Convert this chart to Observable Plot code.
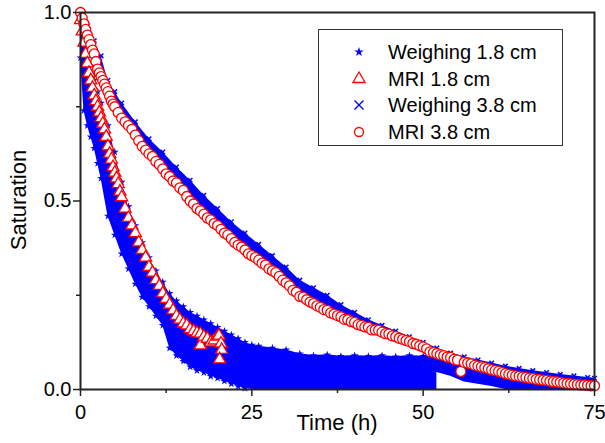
<!DOCTYPE html>
<html>
<head>
<meta charset="utf-8">
<script src="https://cdn.jsdelivr.net/npm/d3@7"></script>
<script src="https://cdn.jsdelivr.net/npm/@observablehq/plot@0.6"></script>
<style>
  html, body { margin: 0; padding: 0; background: #fff; }
  #wrap { position: relative; width: 605px; height: 443px; font-family: "Liberation Sans", Arial, sans-serif; color: #000; }
  .title { position: absolute; font-size: 22px; white-space: nowrap; }
  #legend { position: absolute; left: 318px; top: 29px; width: 245px; height: 117px; border: 1px solid #333; background: #fff; box-sizing: border-box; }
  .row { position: absolute; left: 0; height: 26px; font-size: 20px; line-height: 26px; }
  .row svg { position: absolute; left: 30px; top: 3px; }
  .row span { position: absolute; left: 69px; white-space: nowrap; }
</style>
</head>
<body>
<div id="wrap">
  <div id="chart"></div>
  <div class="title" style="left:337px; top:410px; transform: translateX(-50%);">Time (h)</div>
  <div class="title" style="left:19px; top:200px; transform: translate(-50%,-50%) rotate(-90deg);">Saturation</div>
  <div id="legend"></div>
</div>
<script>
// ---- tick labels ----
const xMajorTicks = [0, 25, 50, 75];
const xMinorTicks = [12.5, 37.5, 62.5];
const yMajorTicks = [0, 0.5, 1.0];
const yMinorTicks = [0.25, 0.75];

// ---- series names ----
const seriesNames = ["Weighing 1.8 cm", "MRI 1.8 cm", "Weighing 3.8 cm", "MRI 3.8 cm"];

// ---- Weighing 1.8 cm (dense point cloud: lower / upper envelope) ----
const w18Time = [0, 0.5, 1, 1.5, 2, 2.5, 3, 4, 5, 6, 7, 8, 9, 10, 11, 12, 13, 14, 15, 16, 17, 18, 19, 20, 21, 22, 23, 24, 25, 26, 28, 30, 32, 34, 36, 38, 40, 42, 44, 46, 48, 50, 52];
const w18Low  = [0.88, 0.74, 0.70, 0.67, 0.64, 0.60, 0.56, 0.46, 0.41, 0.36, 0.32, 0.28, 0.245, 0.22, 0.195, 0.17, 0.11, 0.09, 0.075, 0.06, 0.05, 0.045, 0.035, 0.03, 0.022, 0.015, 0.008, 0.003, 0, 0, 0, 0, 0, 0, 0, 0, 0, 0, 0, 0, 0, 0, 0];
const w18High = [1.0, 0.95, 0.90, 0.86, 0.82, 0.79, 0.76, 0.70, 0.63, 0.55, 0.485, 0.435, 0.39, 0.35, 0.315, 0.285, 0.255, 0.235, 0.22, 0.205, 0.195, 0.185, 0.175, 0.165, 0.155, 0.145, 0.135, 0.125, 0.118, 0.115, 0.11, 0.105, 0.095, 0.09, 0.092, 0.088, 0.09, 0.088, 0.09, 0.087, 0.09, 0.088, 0.085];

// ---- MRI 1.8 cm ----
const m18Time = [0, 0.25, 0.5, 0.75, 1.0, 1.25, 1.5, 1.75, 2.0, 2.25, 2.5, 2.75, 3.0, 3.25, 3.5, 3.75, 4.0, 4.25, 4.5, 4.75, 5.0, 5.25, 5.5, 5.75, 6.0, 6.5, 7, 7.5, 8, 8.5, 9, 9.5, 10, 10.5, 11, 11.5, 12, 12.5, 13, 13.5, 14, 14.5, 15, 15.5, 16, 16.5, 17, 17.5, 17.5, 18, 18.5, 19, 19.5, 20, 20.2, 20.5, 20.6, 20.3];
const m18Sat  = [0.98, 0.95, 0.92, 0.89, 0.865, 0.84, 0.82, 0.80, 0.78, 0.765, 0.75, 0.735, 0.72, 0.705, 0.69, 0.67, 0.645, 0.625, 0.61, 0.59, 0.575, 0.56, 0.545, 0.525, 0.51, 0.48, 0.455, 0.435, 0.415, 0.39, 0.37, 0.35, 0.325, 0.31, 0.29, 0.275, 0.255, 0.24, 0.225, 0.21, 0.195, 0.185, 0.175, 0.17, 0.16, 0.155, 0.15, 0.148, 0.117, 0.14, 0.135, 0.125, 0.13, 0.14, 0.143, 0.122, 0.105, 0.08];

// ---- Weighing 3.8 cm (dense point cloud: lower / upper envelope) ----
const w38Time = [0, 1, 2, 3, 4, 5, 6, 8, 10, 12, 14, 16, 18, 20, 22, 24, 26, 28, 30, 32, 34, 36, 38, 40, 42, 44, 46, 48, 50, 52, 54, 56, 58, 60, 62, 64, 66, 68, 70, 72, 74, 75];
const w38Low  = [0.96, 0.92, 0.87, 0.81, 0.77, 0.735, 0.705, 0.66, 0.61, 0.57, 0.535, 0.49, 0.455, 0.42, 0.39, 0.36, 0.33, 0.305, 0.275, 0.24, 0.22, 0.20, 0.185, 0.17, 0.155, 0.145, 0.13, 0.115, 0.10, 0.045, 0.035, 0.02, 0.014, 0.008, 0, 0, 0, 0, 0, 0, 0, 0];
const w38High = [1.0, 0.965, 0.925, 0.885, 0.82, 0.79, 0.76, 0.71, 0.665, 0.63, 0.59, 0.555, 0.515, 0.48, 0.445, 0.415, 0.385, 0.355, 0.325, 0.29, 0.27, 0.25, 0.225, 0.205, 0.185, 0.17, 0.155, 0.14, 0.125, 0.11, 0.097, 0.087, 0.078, 0.07, 0.062, 0.056, 0.05, 0.045, 0.04, 0.036, 0.032, 0.03];

// ---- MRI 3.8 cm ----
const m38Time = [0, 0.25, 0.5, 0.75, 1, 1.25, 1.5, 1.75, 2, 2.25, 2.5, 2.75, 3, 3.25, 3.5, 3.75, 4, 4.25, 4.5, 4.75, 5, 5.5, 6, 6.5, 7, 7.5, 8, 8.5, 9, 9.5,
  10, 10.5, 11, 11.5, 12, 12.5, 13, 13.5, 14, 14.5, 15, 15.5, 16, 16.5, 17, 17.5, 18, 18.5, 19, 19.5,
  20, 20.5, 21, 21.5, 22, 22.5, 23, 23.5, 24, 24.5, 25, 25.5, 26, 26.5, 27, 27.5, 28, 28.5, 29, 29.5,
  30, 30.5, 31, 31.5, 32, 32.5, 33, 33.5, 34, 34.5, 35, 35.5, 36, 36.5, 37, 37.5, 38, 38.5, 39, 39.5,
  40, 40.5, 41, 41.5, 42, 42.5, 43, 43.5, 44, 44.5, 45, 45.5, 46, 46.5, 47, 47.5, 48, 48.5, 49, 49.5,
  50, 50.5, 51, 51.5, 52, 52.5, 53, 53.5, 54, 54.5, 55, 55.5, 56, 56.5, 57, 57.5, 58, 58.5, 59, 59.5,
  60, 60.5, 61, 61.5, 62, 62.5, 63, 63.5, 64, 64.5, 65, 65.5, 66, 66.5, 67, 67.5, 68, 68.5, 69, 69.5,
  70, 70.5, 71, 71.5, 72, 72.5, 73, 73.5, 74, 74.5, 75];
const m38Sat  = [1.0, 0.985, 0.97, 0.955, 0.94, 0.928, 0.915, 0.90, 0.89, 0.87, 0.85, 0.84, 0.83, 0.82, 0.81, 0.80, 0.79, 0.778, 0.765, 0.757, 0.75, 0.735, 0.72, 0.71, 0.70, 0.69, 0.675, 0.66, 0.645, 0.635,
  0.625, 0.618, 0.605, 0.597, 0.585, 0.572, 0.565, 0.553, 0.548, 0.535, 0.528, 0.512, 0.50, 0.492, 0.48, 0.474, 0.465, 0.455, 0.45, 0.44,
  0.435, 0.425, 0.415, 0.41, 0.40, 0.39, 0.383, 0.378, 0.37, 0.36, 0.355, 0.35, 0.343, 0.335, 0.33, 0.32, 0.315, 0.31, 0.30, 0.29,
  0.283, 0.275, 0.263, 0.258, 0.247, 0.245, 0.238, 0.232, 0.228, 0.222, 0.218, 0.212, 0.21, 0.203, 0.20, 0.196, 0.193, 0.186, 0.185, 0.18,
  0.178, 0.172, 0.17, 0.166, 0.165, 0.158, 0.158, 0.157, 0.152, 0.148, 0.147, 0.142, 0.14, 0.136, 0.133, 0.13, 0.127, 0.122, 0.12, 0.116,
  0.113, 0.108, 0.10, 0.098, 0.095, 0.092, 0.09, 0.086, 0.085, 0.08, 0.078, 0.048, 0.072, 0.07, 0.068, 0.064, 0.062, 0.06, 0.058, 0.055,
  0.052, 0.05, 0.048, 0.045, 0.042, 0.04, 0.038, 0.036, 0.035, 0.033, 0.032, 0.03, 0.029, 0.027, 0.026, 0.025, 0.024, 0.022, 0.021, 0.02,
  0.019, 0.017, 0.016, 0.015, 0.014, 0.013, 0.012, 0.012, 0.011, 0.01, 0.01];

// ---- build tables ----
const w18 = w18Time.map((t, i) => ({t, lo: w18Low[i], hi: w18High[i]}));
const w38 = w38Time.map((t, i) => ({t, lo: w38Low[i], hi: w38High[i]}));
const m18 = m18Time.map((t, i) => ({t, s: m18Sat[i]}));
const m38 = m38Time.map((t, i) => ({t, s: m38Sat[i]}));

const BLUE = "#0000ff", RED = "#ff0000", INK = "#222";
const noLabel = () => "";

const chart = Plot.plot({
  width: 605,
  height: 443,
  marginLeft: 80,
  marginRight: 11,
  marginTop: 12,
  marginBottom: 54,
  style: {fontFamily: '"Liberation Sans", Arial, sans-serif', fontSize: "20px", color: "#000", background: "#fff", overflow: "visible"},
  x: {domain: [0, 75]},
  y: {domain: [0, 1]},
  marks: [
    // Weighing 1.8 cm
    Plot.areaY(w18, {x: "t", y1: "lo", y2: "hi", fill: BLUE}),
    Plot.dot(w18, {x: "t", y: "hi", symbol: "star", r: 2.5, fill: BLUE}),
    Plot.dot(w18.filter(d => d.lo > 0), {x: "t", y: "lo", symbol: "star", r: 2.5, fill: BLUE}),
    // MRI 1.8 cm
    Plot.dot(m18, {x: "t", y: "s", symbol: "triangle", r: 4.5, stroke: RED, fill: "#fff", strokeWidth: 1.3}),
    // Weighing 3.8 cm
    Plot.areaY(w38, {x: "t", y1: "lo", y2: "hi", fill: BLUE}),
    Plot.dot(w38, {x: "t", y: "hi", symbol: "times", r: 2.2, stroke: BLUE, strokeWidth: 1.5}),
    // MRI 3.8 cm
    Plot.dot(m38, {x: "t", y: "s", symbol: "circle", r: 5, stroke: RED, fill: "#fff", strokeWidth: 1.3}),
    // axes
    Plot.axisX(xMajorTicks, {tickSize: 7, tickPadding: 8, tickFormat: d => String(d), label: null, stroke: INK, strokeWidth: 1.5}),
    Plot.axisX(xMinorTicks, {tickSize: 4, tickFormat: noLabel, label: null, stroke: INK, strokeWidth: 1.5}),
    Plot.axisY(yMajorTicks, {tickSize: 7, tickPadding: 2, tickFormat: d => d.toFixed(1), label: null, stroke: INK, strokeWidth: 1.5}),
    Plot.axisY(yMinorTicks, {tickSize: 4, tickFormat: noLabel, label: null, stroke: INK, strokeWidth: 1.5}),
    Plot.frame({stroke: INK, strokeWidth: 2})
  ]
});
document.getElementById("chart").appendChild(chart);

// ---- legend ----
const legendSymbols = [
  '<svg width="20" height="20" viewBox="-10 -10 20 20"><path d="' + d3.symbol(d3.symbolStar, 28)() + '" fill="' + BLUE + '"/></svg>',
  '<svg width="20" height="20" viewBox="-10 -10 20 20"><path d="' + d3.symbol(d3.symbolTriangle, 64)() + '" fill="#fff" stroke="' + RED + '" stroke-width="1.3"/></svg>',
  '<svg width="20" height="20" viewBox="-10 -10 20 20"><path d="M-4.5,-4.5L4.5,4.5M-4.5,4.5L4.5,-4.5" stroke="' + BLUE + '" stroke-width="1.4"/></svg>',
  '<svg width="20" height="20" viewBox="-10 -10 20 20"><circle r="4.5" fill="#fff" stroke="' + RED + '" stroke-width="1.3"/></svg>'
];
const legend = document.getElementById("legend");
seriesNames.forEach((name, i) => {
  const row = document.createElement("div");
  row.className = "row";
  row.style.top = (9 + i * 26.7) + "px";
  row.innerHTML = legendSymbols[i] + "<span>" + name + "</span>";
  legend.appendChild(row);
});
</script>
</body>
</html>
